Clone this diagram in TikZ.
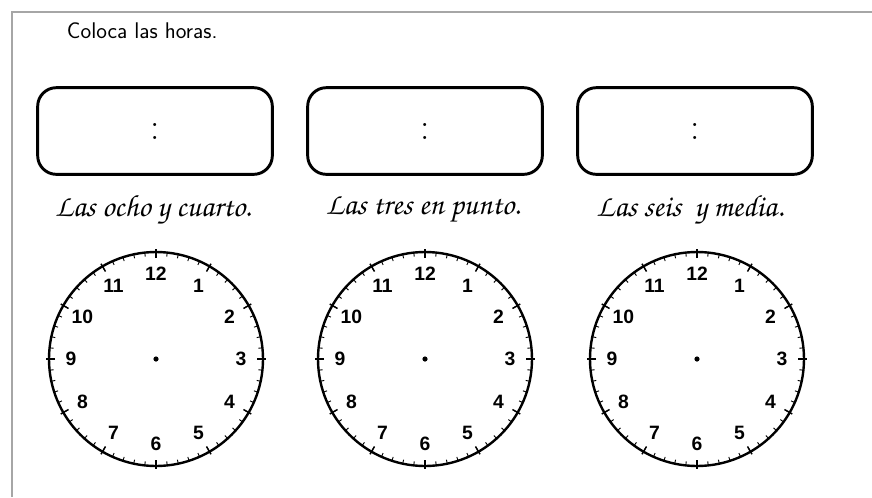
\documentclass[tikz,border=0pt]{standalone}
\usepackage[T1]{fontenc}
\usepackage{fontspec}
\newfontfamily\cifras{Liberation Sans}
\newcommand\cursiva{\fontencoding{T1}\fontfamily{pzc}\fontseries{mb}\fontshape{it}\selectfont}
\tikzset{
  caja/.style={draw, line width=2.2pt, rounded corners=14pt,
    minimum width=176pt, minimum height=65pt,
    font=\fontsize{28}{32}\selectfont},
  frase/.style={font=\cursiva\fontsize{23}{26}\selectfont},
  cifra/.style={font=\cifras\bfseries\fontsize{14.5}{16}\selectfont, inner sep=0pt}
}
\begin{document}
\begin{tikzpicture}[x=0.75pt, y=-0.75pt, thick]
    \useasboundingbox (0,0) rectangle (872,497);
    \draw[gray!70, line width=1.5pt] (12,497) -- (12,12) -- (872,12);

    \node[anchor=west, font=\sffamily\fontsize{17}{20}\selectfont] (titulo) at (62,31) {Coloca las horas.};

    % recuadros para escribir la hora
    \node[caja] (caja1) at (155,131) {:};
    \node[caja] (caja2) at (425,131) {:};
    \node[caja] (caja3) at (695,131) {:};

    \node[frase] (frase1) at (153,210) {Las ocho y cuarto.};
    \node[frase] (frase2) at (423,210) {Las tres en punto.};
    \node[frase] (frase3) at (690,210) {Las seis\ \ y media.};

    % esferas de los relojes
    \foreach \cx/\nom in {156/a, 425/b, 697/c} {
      \begin{scope}[shift={(\cx,359)}]
        \draw[line width=1.8pt] (0,0) circle[radius=107];
        \foreach \m in {0,...,59}
          \draw[line width=0.7pt] (\m*6:103) -- (\m*6:107);
        \foreach \h in {1,...,12} {
          \draw[line width=1.1pt] (-90+\h*30:101) -- (-90+\h*30:110);
          \node[cifra] (\nom\h) at (-90+\h*30:85) {\h};
        }
        \fill (0,0) circle[radius=2.6];
      \end{scope}
    }
\end{tikzpicture}
\end{document}
